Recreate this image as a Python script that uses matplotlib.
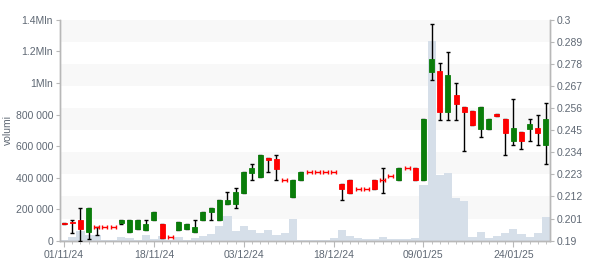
import matplotlib.pyplot as plt
from matplotlib.patches import Rectangle

plt.rcParams['font.family'] = ['Liberation Sans', 'DejaVu Sans']

dates = ["01/11/24", "04/11/24", "05/11/24", "06/11/24", "07/11/24", "08/11/24",
         "11/11/24", "12/11/24", "13/11/24", "14/11/24", "15/11/24", "18/11/24",
         "19/11/24", "20/11/24", "21/11/24", "22/11/24", "25/11/24", "26/11/24",
         "27/11/24", "28/11/24", "29/11/24", "02/12/24", "03/12/24", "04/12/24",
         "05/12/24", "06/12/24", "09/12/24", "10/12/24", "11/12/24", "12/12/24",
         "13/12/24", "16/12/24", "17/12/24", "18/12/24", "19/12/24", "20/12/24",
         "23/12/24", "27/12/24", "30/12/24", "02/01/25", "03/01/25", "06/01/25",
         "07/01/25", "08/01/25", "09/01/25", "10/01/25", "13/01/25", "14/01/25",
         "15/01/25", "16/01/25", "17/01/25", "20/01/25", "21/01/25", "22/01/25",
         "23/01/25", "24/01/25", "27/01/25", "28/01/25", "29/01/25", "30/01/25"]

opens = [0.1990, 0.1995, 0.2005, 0.1945, 0.1970, 0.1970, 0.1970, 0.1990, 0.1945, 0.1960,
         0.1955, 0.2005, 0.1985, 0.1920, 0.1955, 0.1960, 0.1945, 0.2005, 0.2040, 0.2005,
         0.2080, 0.2080, 0.2135, 0.2235, 0.2215, 0.2310, 0.2305, 0.2200, 0.2115, 0.2200,
         0.2240, 0.2240, 0.2240, 0.2240, 0.2180, 0.2200, 0.2155, 0.2155, 0.2200, 0.2200,
         0.2220, 0.2200, 0.2260, 0.2260, 0.2200, 0.2740, 0.2745, 0.2540, 0.2625, 0.2565,
         0.2545, 0.2455, 0.2455, 0.2530, 0.2505, 0.2395, 0.2440, 0.2455, 0.2460, 0.2375]
highs = [0.1990, 0.2005, 0.2060, 0.2060, 0.1970, 0.1970, 0.1970, 0.2005, 0.2005, 0.2005,
         0.2005, 0.2040, 0.1985, 0.1920, 0.1995, 0.1985, 0.2005, 0.2040, 0.2060, 0.2100,
         0.2140, 0.2160, 0.2240, 0.2280, 0.2325, 0.2310, 0.2325, 0.2200, 0.2200, 0.2240,
         0.2240, 0.2240, 0.2240, 0.2240, 0.2180, 0.2200, 0.2155, 0.2155, 0.2200, 0.2260,
         0.2220, 0.2260, 0.2260, 0.2260, 0.2505, 0.2980, 0.2785, 0.2840, 0.2685, 0.2565,
         0.2545, 0.2565, 0.2505, 0.2530, 0.2505, 0.2605, 0.2440, 0.2505, 0.2525, 0.2585]
lows = [0.1985, 0.1940, 0.1900, 0.1910, 0.1930, 0.1970, 0.1970, 0.1985, 0.1945, 0.1960,
        0.1955, 0.2005, 0.1915, 0.1920, 0.1955, 0.1960, 0.1945, 0.2005, 0.2005, 0.2005,
        0.2080, 0.2060, 0.2135, 0.2200, 0.2215, 0.2240, 0.2200, 0.2200, 0.2115, 0.2200,
        0.2240, 0.2240, 0.2240, 0.2240, 0.2100, 0.2135, 0.2155, 0.2155, 0.2155, 0.2135,
        0.2220, 0.2200, 0.2260, 0.2200, 0.2200, 0.2700, 0.2500, 0.2500, 0.2500, 0.2345,
        0.2475, 0.2415, 0.2455, 0.2520, 0.2325, 0.2375, 0.2355, 0.2395, 0.2375, 0.2280]
closes = [0.1985, 0.1990, 0.1960, 0.2060, 0.1970, 0.1970, 0.1970, 0.2005, 0.2005, 0.2005,
          0.1985, 0.2040, 0.1915, 0.1920, 0.1995, 0.1985, 0.1970, 0.2040, 0.2060, 0.2100,
          0.2100, 0.2140, 0.2240, 0.2260, 0.2325, 0.2300, 0.2255, 0.2200, 0.2200, 0.2240,
          0.2240, 0.2240, 0.2240, 0.2240, 0.2155, 0.2135, 0.2155, 0.2155, 0.2155, 0.2200,
          0.2220, 0.2260, 0.2260, 0.2200, 0.2505, 0.2805, 0.2540, 0.2725, 0.2580, 0.2540,
          0.2475, 0.2565, 0.2505, 0.2520, 0.2435, 0.2460, 0.2395, 0.2480, 0.2435, 0.2505]
volumes = [3000, 24000, 62000, 37000, 37000, 5000, 4000, 22000, 16000, 3000,
           35000, 12000, 28000, 5000, 24000, 6000, 14000, 30000, 44000, 93000,
           157000, 60000, 94000, 69000, 48000, 69000, 35000, 48000, 137000, 5000,
           4000, 4000, 4000, 15000, 67000, 28000, 18000, 10000, 8000, 24000,
           9000, 8000, 10000, 18000, 352000, 1267000, 416000, 430000, 272000, 251000,
           24000, 54000, 16000, 30000, 48000, 75000, 41000, 24000, 48000, 151000]

vol_ticks = [0, 200000, 400000, 600000, 800000, 1000000, 1200000, 1400000]
vol_labels = ["0", "200 000", "400 000", "600 000", "800 000", "1Mln", "1.2Mln", "1.4Mln"]
price_ticks = [0.19, 0.201, 0.212, 0.223, 0.234, 0.245, 0.256, 0.267, 0.278, 0.289, 0.3]
date_ticks = [0, 11, 22, 33, 44, 55]

green = "#0a7d0a"
red = "#ff0000"
grey_txt = "#5f6874"
axis_col = "#b8b8b8"

fig = plt.figure(figsize=(6, 2.7), dpi=100)
ax = fig.add_axes([0.1, 0.109, 0.8167, 0.817])
ax2 = ax.twinx()

# alternating bands follow the price ticks
pmin, pmax = price_ticks[0], price_ticks[-1]
for k in range(1, len(price_ticks) - 1, 2):
    f0 = (price_ticks[k] - pmin) / (pmax - pmin)
    f1 = (price_ticks[k + 1] - pmin) / (pmax - pmin)
    ax.add_patch(Rectangle((0, f0), 1, f1 - f0, transform=ax.transAxes,
                           facecolor="#f8f8f8", edgecolor="none", zorder=0))

x = list(range(len(dates)))
ax.bar(x, volumes, width=1.0, color="#d6dfe9", zorder=2)
ax.set_ylim(0, 1400000)
ax.set_xlim(-0.5, len(dates) - 0.5)

# wicks
for i in x:
    if highs[i] > lows[i]:
        mid = (highs[i] + lows[i]) / 2
        ax2.errorbar(i, mid, yerr=(highs[i] - lows[i]) / 2, fmt="none",
                     ecolor="black", elinewidth=1, capsize=1.3, capthick=1, zorder=3)

# bodies
for i in x:
    o, c = opens[i], closes[i]
    if o == c:
        ax2.errorbar(i, o, xerr=0.3, fmt="none", ecolor=red, elinewidth=1,
                     capsize=1.3, capthick=1, zorder=4)
    else:
        col = green if c > o else red
        ax2.bar(i, abs(c - o), bottom=min(o, c), width=0.62, color=col,
                edgecolor=col, linewidth=0.6, zorder=4)

ax2.set_ylim(pmin, pmax)
ax2.set_yticks(price_ticks)
ax2.set_yticklabels([f"{p:g}" for p in price_ticks])

ax.set_yticks(vol_ticks)
ax.set_yticklabels(vol_labels)
ax.set_xticks(date_ticks)
ax.set_xticklabels([dates[i] for i in date_ticks])
ax.set_xticks(x, minor=True)
ax.set_ylabel("volumi", fontsize=7.5, color=grey_txt, labelpad=2)

for a in (ax, ax2):
    a.spines["top"].set_visible(False)
    for s in ("left", "right", "bottom"):
        a.spines[s].set_color(axis_col)
        a.spines[s].set_linewidth(1)
    a.tick_params(axis="both", which="major", labelsize=7.5, colors=grey_txt,
                  color=axis_col, length=3, pad=2)
ax.tick_params(axis="x", which="major", length=4, labelsize=7.5, pad=3)
ax.tick_params(axis="x", which="minor", length=2.5, color=axis_col)
ax2.patch.set_visible(False)

fig.savefig("out.png", dpi=100)
